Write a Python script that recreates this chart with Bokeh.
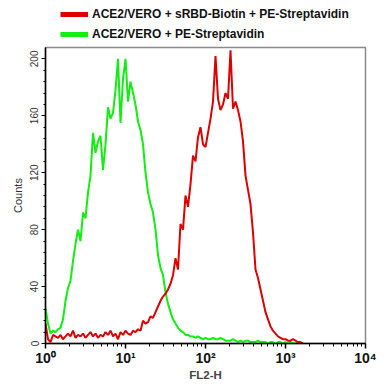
from bokeh.plotting import figure
from bokeh.layouts import column
from bokeh.models import Legend, LegendItem, FixedTicker, Range1d
from bokeh.embed import file_html
from bokeh.resources import INLINE

# Counts per channel (32 channels per decade, channel 0 at FL2-H = 1)
green_counts = [25, 14, 7, 9, 8, 10, 11, 17, 30, 39, 44, 58, 70, 80, 72, 92, 88, 106, 118, 148,
                134, 142, 146, 122, 140, 166, 158, 162, 178, 200, 155, 186, 200, 170, 184, 176, 168, 156, 150, 140,
                120, 106, 98, 92, 80, 62, 53, 48, 36, 28, 22, 17, 14, 11, 9, 8, 6, 6, 5, 5,
                4, 5, 4, 3, 4, 3, 3, 4, 3, 3, 4, 3, 2, 2, 2, 3, 2, 1, 2, 1,
                2, 2, 1, 1, 1, 2, 1, 1, 1, 0, 1, 1, 0, 1, 1, 0, 1, 0, 1, 0,
                0, 1, 0, 0]
red_counts = [14, 3, 1, 6, 5, 4, 6, 3, 5, 7, 5, 9, 4, 6, 5, 7, 4, 6, 8, 5,
              7, 4, 6, 5, 8, 6, 9, 5, 7, 3, 8, 6, 9, 7, 6, 9, 8, 10, 9, 16,
              14, 15, 19, 18, 22, 26, 30, 33, 35, 38, 42, 48, 60, 52, 84, 80, 104, 96, 112, 132,
              128, 145, 152, 140, 138, 148, 158, 170, 202, 172, 164, 168, 176, 172, 206, 165, 170, 164, 156, 142,
              118, 108, 98, 78, 52, 46, 38, 30, 22, 17, 12, 9, 7, 5, 4, 3, 3, 2, 2, 3,
              2, 1, 1, 0]
channels_per_decade = 32
green_x = [10 ** (i / channels_per_decade) for i in range(len(green_counts))]
red_x = [10 ** (i / channels_per_decade) for i in range(len(red_counts))]

x_ticks = [1, 10, 100, 1000, 10000]
x_tick_labels = ["10\u2070", "10\u00b9", "10\u00b2", "10\u00b3", "10\u2074"]
y_ticks = [0, 40, 80, 120, 160, 200]
labels = ["ACE2/VERO + sRBD-Biotin + PE-Streptavidin", "ACE2/VERO + PE-Streptavidin"]

RED = "#dd0000"
GREEN = "#11ee11"

# ---- legend strip (separate figure above the plot) ----
lf = figure(width=385, height=45, output_backend="svg", toolbar_location=None,
            x_axis_location=None, y_axis_location=None,
            x_range=Range1d(0, 1), y_range=Range1d(0, 1),
            min_border_left=0, min_border_right=0, min_border_top=0, min_border_bottom=0)
lf.outline_line_color = None
lf.xgrid.visible = False
lf.ygrid.visible = False
lr = lf.line([5, 6], [5, 6], line_color=RED, line_width=5)
lg = lf.line([5, 6], [5, 6], line_color=GREEN, line_width=5)
legend = Legend(items=[LegendItem(label=labels[0], renderers=[lr]),
                       LegendItem(label=labels[1], renderers=[lg])],
                location=(15, 3), orientation="vertical")
legend.label_text_font = "Liberation Sans"
legend.label_text_font_style = "bold"
legend.label_text_font_size = "12px"
legend.label_text_color = "#111111"
legend.glyph_width = 28
legend.glyph_height = 16
legend.label_height = 16
legend.label_standoff = 4
legend.spacing = 4
legend.padding = 0
legend.margin = 0
legend.border_line_color = None
legend.background_fill_alpha = 0
lf.add_layout(legend)

# ---- main histogram plot ----
p = figure(width=385, height=338, x_axis_type="log", output_backend="svg",
           toolbar_location=None, x_range=Range1d(1, 10000), y_range=Range1d(0, 208),
           min_border_left=45, min_border_right=20, min_border_top=2, min_border_bottom=40)
p.xgrid.visible = False
p.ygrid.visible = False
p.outline_line_color = "#8a8a8a"
p.outline_line_width = 1.5

p.line(green_x, green_counts, line_color=GREEN, line_width=2)
p.line(red_x, red_counts, line_color=RED, line_width=2)

xa = p.xaxis[0]
xa.ticker = FixedTicker(ticks=x_ticks,
                        minor_ticks=[m * d for d in [1, 10, 100, 1000] for m in range(2, 10)])
xa.major_label_overrides = {t: l for t, l in zip(x_ticks, x_tick_labels)}
xa.major_label_text_font = "Liberation Sans"
xa.major_label_text_font_style = "bold"
xa.major_label_text_font_size = "14px"
xa.major_label_text_color = "#111111"
xa.major_label_standoff = 1
xa.axis_label = "FL2-H"
xa.axis_label_text_font = "Liberation Sans"
xa.axis_label_text_font_style = "bold"
xa.axis_label_text_font_size = "11.5px"
xa.axis_label_standoff = 0
xa.axis_line_width = 1.5
xa.major_tick_out = 5
xa.major_tick_in = 0
xa.minor_tick_out = 3
xa.minor_tick_in = 0
xa.major_tick_line_width = 1.5

ya = p.yaxis[0]
ya.ticker = FixedTicker(ticks=y_ticks, minor_ticks=list(range(0, 208, 8)))
ya.major_label_orientation = "vertical"
ya.major_label_text_font = "Liberation Sans"
ya.major_label_text_font_size = "10px"
ya.major_label_text_color = "#333333"
ya.major_label_standoff = 3
ya.axis_label = "Counts"
ya.axis_label_text_font = "Liberation Sans"
ya.axis_label_text_font_style = "normal"
ya.axis_label_text_font_size = "11px"
ya.axis_label_text_color = "#333333"
ya.axis_label_standoff = 4
ya.axis_line_width = 1.5
ya.major_tick_out = 4
ya.major_tick_in = 0
ya.minor_tick_out = 2
ya.minor_tick_in = 0

layout = column(lf, p, spacing=0)
open("out.html", "w").write(file_html(layout, INLINE))
